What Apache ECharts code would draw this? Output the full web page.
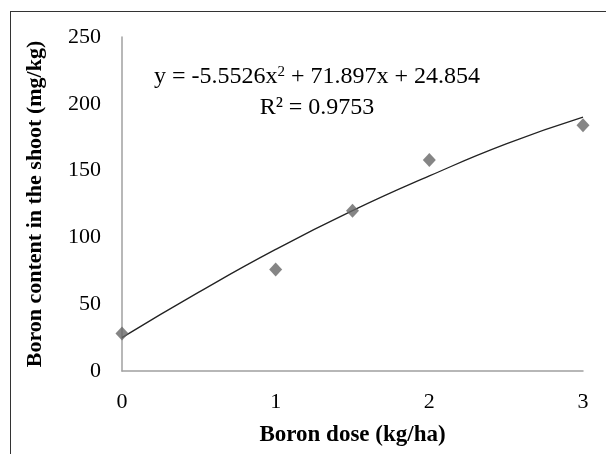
<!DOCTYPE html>
<html>
<head>
<meta charset="utf-8">
<script src="https://cdn.jsdelivr.net/npm/echarts@6/dist/echarts.min.js"></script>
<style>
  html, body { margin: 0; padding: 0; background: #fff; }
  #chart { width: 606px; height: 454px; position: relative; }
  .frame { position: absolute; left: 10px; top: 11px; width: 600px; height: 450px;
           border-left: 1px solid #333; border-top: 1px solid #333; pointer-events: none; }
</style>
</head>
<body>
<div id="chart"></div>
<div class="frame"></div>
<script>
// measured points (boron dose kg/ha, boron content mg/kg)
const doses = [0, 1, 1.5, 2, 3];
const contents = [28, 76, 120, 158, 184];

// trend line
const trendX = [0, 0.5, 1, 1.5, 2, 2.5, 3];
const trendY = [25, 59, 91, 120, 146, 170, 190];

const yTicks = [0, 50, 100, 150, 200, 250];
const xTicks = [0, 1, 2, 3];

const serif = "Liberation Serif, Times New Roman, serif";

const chart = echarts.init(document.getElementById("chart"));
chart.setOption({
  animation: false,
  backgroundColor: "#fff",
  grid: { left: 122, top: 37, right: 23, bottom: 83 },
  xAxis: {
    type: "value",
    min: xTicks[0],
    max: xTicks[xTicks.length - 1],
    interval: 1,
    name: "Boron dose (kg/ha)",
    nameLocation: "middle",
    nameGap: 53,
    nameTextStyle: { fontFamily: serif, fontSize: 23, fontWeight: "bold", color: "#000" },
    axisLine: { lineStyle: { color: "#a0a0a0", width: 1.5 } },
    axisTick: { show: false },
    splitLine: { show: false },
    axisLabel: { fontFamily: serif, fontSize: 22, color: "#000", margin: 20 },
  },
  yAxis: {
    type: "value",
    min: yTicks[0],
    max: yTicks[yTicks.length - 1],
    interval: 50,
    name: "Boron content in the shoot (mg/kg)",
    nameLocation: "middle",
    nameGap: 76,
    nameRotate: 90,
    nameTextStyle: { fontFamily: serif, fontSize: 22, fontWeight: "bold", color: "#000" },
    axisLine: { show: true, lineStyle: { color: "#a0a0a0", width: 1.5 } },
    axisTick: { show: false },
    splitLine: { show: false },
    axisLabel: { fontFamily: serif, fontSize: 22, color: "#000", margin: 21 },
  },
  series: [
    {
      type: "line",
      data: trendX.map((x, i) => [x, trendY[i]]),
      smooth: true,
      showSymbol: false,
      lineStyle: { color: "#222", width: 1.3 },
      z: 2,
    },
    {
      type: "scatter",
      data: doses.map((x, i) => [x, contents[i]]),
      symbol: "diamond",
      symbolSize: [13, 14],
      itemStyle: { color: "#666" },
      z: 3,
    },
  ],
  graphic: [
    {
      type: "text",
      x: 317,
      y: 77,
      style: {
        text: "y = -5.5526x{sup|2} + 71.897x + 24.854",
        fontFamily: serif,
        fontSize: 24,
        fill: "#000",
        align: "center",
        verticalAlign: "middle",
        rich: {
          sup: { fontFamily: serif, fontSize: 15, fill: "#000", verticalAlign: "top", padding: [0, 0, 9, 0] },
        },
      },
    },
    {
      type: "text",
      x: 317,
      y: 108,
      style: {
        text: "R² = 0.9753",
        fontFamily: serif,
        fontSize: 24,
        fill: "#000",
        align: "center",
        verticalAlign: "middle",
      },
    },
  ],
});
</script>
</body>
</html>
